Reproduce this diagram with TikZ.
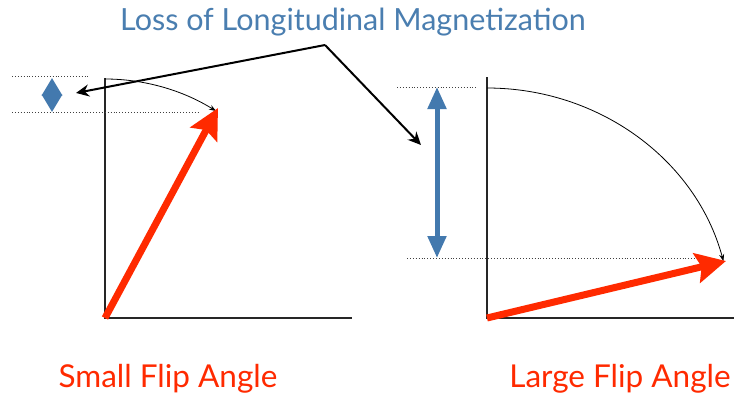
\documentclass[tikz,border=0pt]{standalone}
\usepackage{fontspec}
\setmainfont{Lato}
\usetikzlibrary{arrows.meta}
\definecolor{tblue}{HTML}{4A7EB0}
\definecolor{ablue}{HTML}{4379AE}
\definecolor{tred}{HTML}{FF2A00}
\begin{document}
\begin{tikzpicture}[x=1pt,y=-1pt,
  axis/.style={line width=1.2pt,black!85},
  guide/.style={dotted,line width=0.9pt,black!75},
  vecarrow/.style={line width=7pt,tred,-{Stealth[length=30pt,width=30pt,inset=5pt]}},
  swing/.style={line width=0.8pt,-{Stealth[length=7pt,width=5pt]}},
  pointer/.style={line width=2pt,-{Stealth[length=13pt,width=12pt]}},
  loss/.style={line width=5pt,ablue,{Triangle[length=22pt,width=18pt]}-{Triangle[length=22pt,width=18pt]}},
  lbl/.style={inner sep=0pt,anchor=base}]
\useasboundingbox[fill=white] (0,0) rectangle (734,399);
% titles
\node[lbl,tblue,font=\fontsize{30.5}{34}\selectfont] (title) at (353,30) {Loss of Longitudinal Magnetization};
\node[lbl,tred,font=\fontsize{31.5}{35}\selectfont] (small) at (168,387) {Small Flip Angle};
\node[lbl,tred,font=\fontsize{31.5}{35}\selectfont] (large) at (620,387) {Large Flip Angle};
% left plot
\coordinate (lo) at (105,318);
\coordinate (ltop) at (105,79);
\coordinate (lx) at (352,318);
\coordinate (ltip) at (218,108);
\draw[axis] (105,78) -- (lo) -- (lx);
\draw[guide] (12,76) -- (90,76);
\draw[guide] (12,112) -- (200,112);
\draw[swing] (ltop) arc[start angle=-90,end angle=-60,x radius=222,y radius=239];
\draw[vecarrow] (lo) -- (ltip);
\coordinate (lb1) at (52,78);
\coordinate (lb2) at (52,112);
\draw[ablue,line width=3pt,{Triangle[length=17.5pt,width=20pt]}-{Triangle[length=17.5pt,width=20pt]}] (lb1) -- (lb2);
% right plot
\coordinate (ro) at (487,318);
\coordinate (rtop) at (487,88);
\coordinate (rx) at (734,318);
\coordinate (rtip) at (726,261);
\draw[axis] (487,77) -- (ro) -- (rx);
\draw[guide] (397,87) -- (476,87);
\draw[guide] (407,258) -- (700,258);
\draw[swing] (rtop) arc[start angle=-90,end angle=-14.3,x radius=244,y radius=230];
\draw[vecarrow] (ro) -- (rtip);
\coordinate (rb1) at (437,87);
\coordinate (rb2) at (437,258);
\draw[loss] (rb1) -- (rb2);
% pointers
\coordinate (apex) at (325,45);
\coordinate (pl) at (76,93);
\coordinate (pr) at (421,145);
\draw[pointer] (apex) -- (pl);
\draw[pointer] (apex) -- (pr);
\end{tikzpicture}
\end{document}
